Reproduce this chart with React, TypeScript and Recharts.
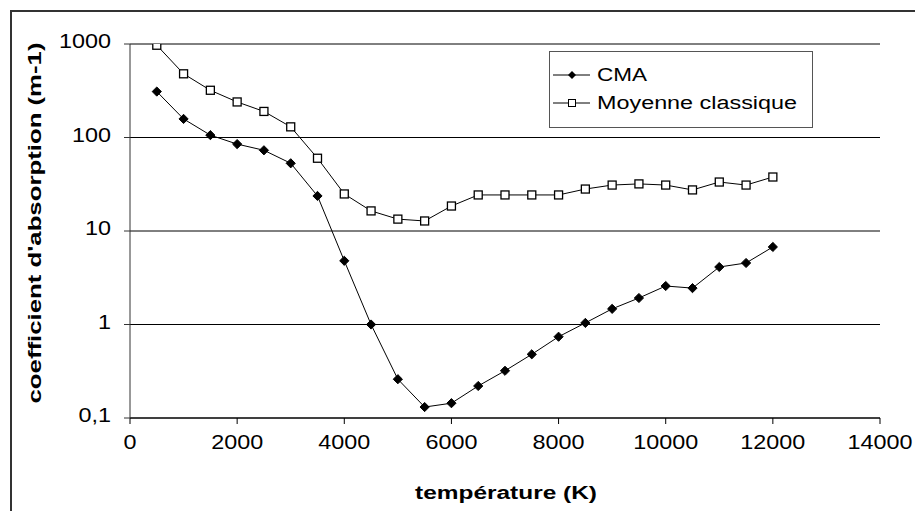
import React from 'react';
import {
  CartesianGrid,
  Legend,
  Line,
  LineChart,
  XAxis,
  YAxis,
} from 'recharts';

// températures (K)
const temperatures = [
  500, 1000, 1500, 2000, 2500, 3000, 3500, 4000, 4500, 5000, 5500, 6000,
  6500, 7000, 7500, 8000, 8500, 9000, 9500, 10000, 10500, 11000, 11500, 12000,
];

// coefficient d'absorption (m-1)
const cma = [
  310, 158, 106, 85, 73, 53, 23.7, 4.8, 1.0, 0.26, 0.131, 0.144,
  0.22, 0.32, 0.48, 0.74, 1.04, 1.47, 1.92, 2.58, 2.45, 4.12, 4.55, 6.75,
];
const moyenneClassique = [
  970, 480, 320, 240, 190, 130, 60, 24.9, 16.4, 13.4, 12.8, 18.5,
  24.3, 24.3, 24.3, 24.3, 28.1, 31, 31.9, 31, 27.5, 33.4, 31, 37.8,
];

const xTicks = [0, 2000, 4000, 6000, 8000, 10000, 12000, 14000];
const yTicks = [0.1, 1, 10, 100, 1000];

const data = temperatures.map((t, i) => ({
  t,
  cma: cma[i],
  moy: moyenneClassique[i],
}));

const FONT = '"Liberation Sans", Arial, sans-serif';
const STRETCH = 1.17;

const fmtY = (v: number) => (v < 1 ? String(v).replace('.', ',') : String(v));

function YTick({ x, y, payload }: any) {
  return (
    <g transform={`translate(${x},${y})`}>
      <text
        transform={`scale(${STRETCH},1)`}
        textAnchor="end"
        dy="0.22em"
        fontSize={20}
        fontFamily={FONT}
        fill="#000"
      >
        {fmtY(payload.value)}
      </text>
    </g>
  );
}

function XTick({ x, y, payload }: any) {
  return (
    <g transform={`translate(${x},${y})`}>
      <text
        transform={`scale(${STRETCH},1)`}
        textAnchor="middle"
        dy={23}
        fontSize={20}
        fontFamily={FONT}
        fill="#000"
      >
        {payload.value}
      </text>
    </g>
  );
}

function Diamond({ cx, cy, index }: any) {
  if (cx == null || cy == null) return <g key={`d${index}`} />;
  const r = 4.6;
  return (
    <polygon
      key={`d${index}`}
      points={`${cx},${cy - r} ${cx + r},${cy} ${cx},${cy + r} ${cx - r},${cy}`}
      fill="#000"
      stroke="#000"
    />
  );
}

function Square({ cx, cy, index }: any) {
  if (cx == null || cy == null) return <g key={`s${index}`} />;
  return (
    <rect
      key={`s${index}`}
      x={cx - 4}
      y={cy - 4}
      width={8}
      height={8}
      fill="#fff"
      stroke="#000"
      strokeWidth={1.3}
    />
  );
}

function LegendBox() {
  return (
    <svg width={265} height={78} style={{ display: 'block' }}>
      <rect x={0.5} y={0.5} width={263} height={76} fill="#fff" stroke="#555" />
      <line x1={4} x2={41} y1={24} y2={24} stroke="#000" />
      <polygon points="23,20 27,24 23,28 19,24" fill="#000" />
      <text x={48} y={24} dy="0.36em" fontSize={18} fontFamily={FONT} textLength={50} lengthAdjust="spacingAndGlyphs">
        CMA
      </text>
      <line x1={4} x2={41} y1={52} y2={52} stroke="#000" />
      <rect x={19.5} y={48.5} width={7} height={7} fill="#fff" stroke="#000" />
      <text x={48} y={52} dy="0.36em" fontSize={18} fontFamily={FONT} textLength={200} lengthAdjust="spacingAndGlyphs">
        Moyenne classique
      </text>
    </svg>
  );
}

export default function App() {
  return (
    <div
      style={{
        position: 'absolute',
        left: 0,
        top: 0,
        width: 915,
        height: 511,
        background: '#fff',
        overflow: 'hidden',
      }}
    >
      <div
        style={{
          position: 'absolute',
          left: 10,
          top: 10,
          width: 1000,
          height: 1000,
          borderLeft: '2px solid #333',
          borderTop: '2px solid #333',
        }}
      />
      <LineChart
        width={915}
        height={511}
        data={data}
        margin={{ top: 44, right: 35, bottom: 0, left: 0 }}
        style={{ position: 'absolute', left: 0, top: 0 }}
      >
        <CartesianGrid stroke="#000" vertical={false} />
        <XAxis
          dataKey="t"
          type="number"
          domain={[0, 14000]}
          ticks={xTicks}
          height={93}
          tickSize={6}
          tickMargin={2}
          tick={<XTick />}
          axisLine={{ stroke: '#000' }}
          tickLine={{ stroke: '#000' }}
          label={{
            content: ({ viewBox }: any) => (
              <text
                x={viewBox.x + viewBox.width / 2 + 1}
                y={viewBox.y + 81}
                textAnchor="middle"
                fontSize={18}
                fontWeight="bold"
                fontFamily={FONT}
                textLength={182}
                lengthAdjust="spacingAndGlyphs"
              >
                température (K)
              </text>
            ),
          }}
        />
        <YAxis
          scale="log"
          domain={[0.1, 1000]}
          ticks={yTicks}
          allowDataOverflow
          width={130}
          tickSize={6}
          tickMargin={13}
          tick={<YTick />}
          axisLine={{ stroke: '#333' }}
          tickLine={{ stroke: '#333' }}
          label={{
            content: ({ viewBox }: any) => {
              const cy = viewBox.y + viewBox.height / 2 - 8;
              return (
                <text
                  transform={`translate(41,${cy}) rotate(-90)`}
                  textAnchor="middle"
                  fontSize={18}
                  fontWeight="bold"
                  fontFamily={FONT}
                  textLength={361}
                  lengthAdjust="spacingAndGlyphs"
                >
                  coefficient d'absorption (m-1)
                </text>
              );
            },
          }}
        />
        <Legend
          layout="horizontal"
          verticalAlign="middle"
          align="center"
          content={() => <LegendBox />}
          wrapperStyle={{ left: 549, top: 51, width: 265, height: 78 }}
        />
        <Line
          type="linear"
          dataKey="cma"
          name="CMA"
          stroke="#000"
          strokeWidth={1}
          dot={<Diamond />}
          activeDot={false}
          isAnimationActive={false}
        />
        <Line
          type="linear"
          dataKey="moy"
          name="Moyenne classique"
          stroke="#000"
          strokeWidth={1}
          dot={<Square />}
          activeDot={false}
          isAnimationActive={false}
        />
      </LineChart>
    </div>
  );
}
